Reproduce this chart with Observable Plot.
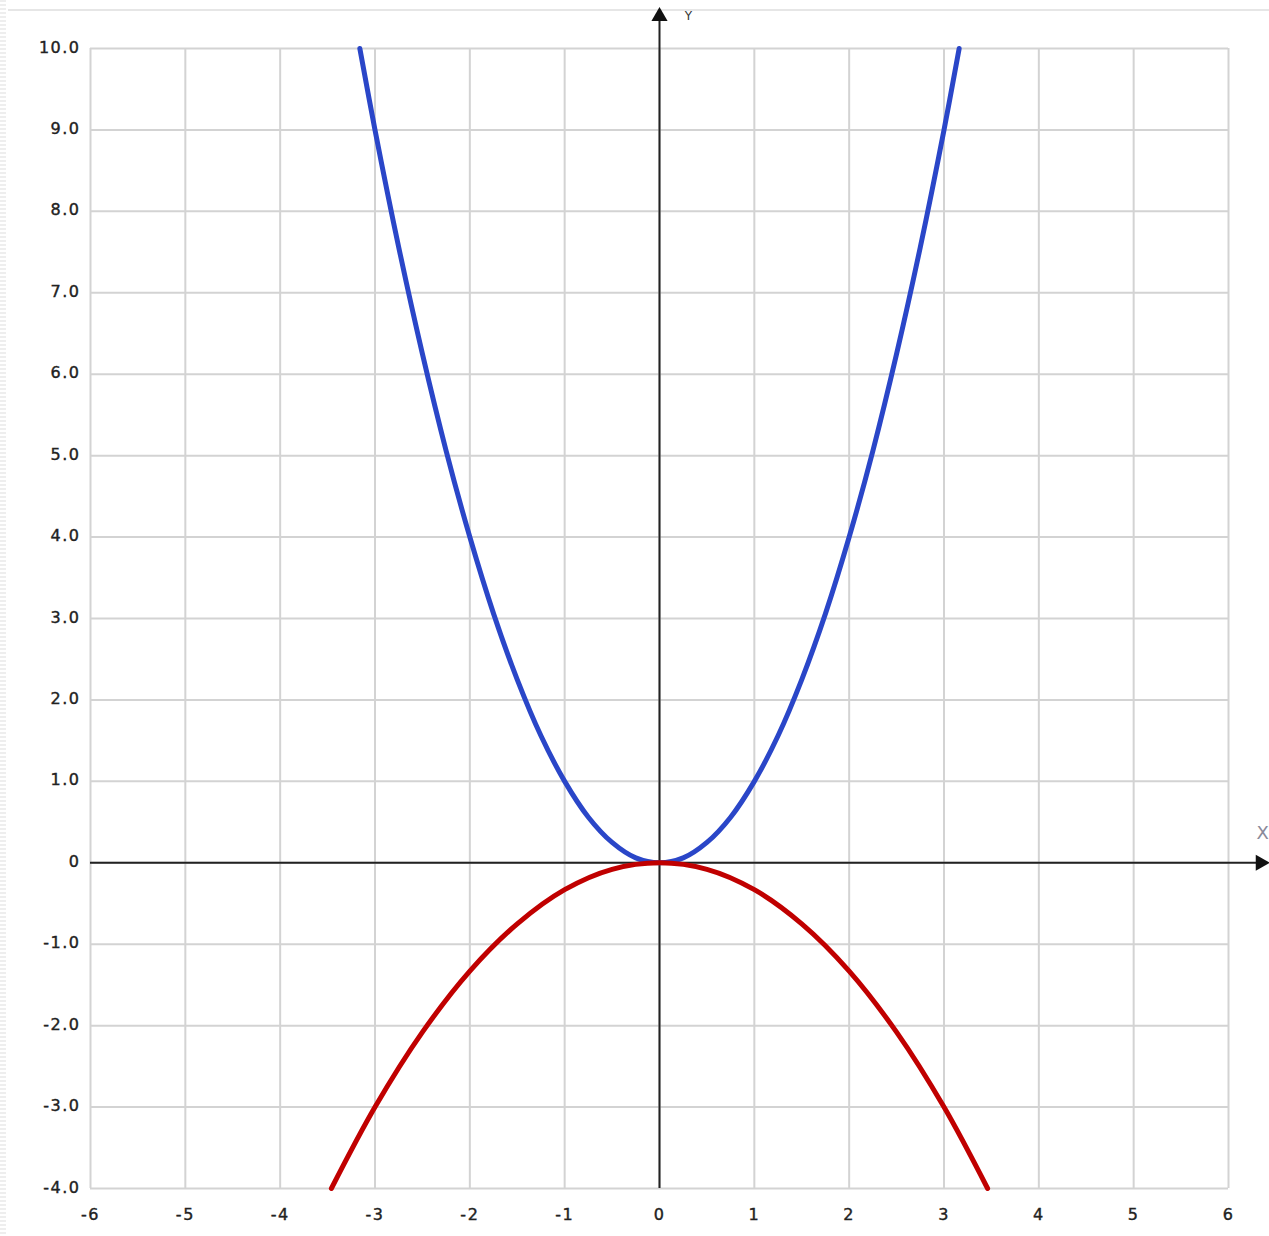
<!DOCTYPE html>
<html>
<head>
<meta charset="utf-8">
<script src="https://cdn.jsdelivr.net/npm/d3@7"></script>
<script src="https://cdn.jsdelivr.net/npm/@observablehq/plot@0.6"></script>
<style>
  html, body { margin: 0; padding: 0; background: #fff; }
  #wrap { position: relative; width: 1269px; height: 1236px; overflow: hidden; }
  #topline { position: absolute; left: 8px; right: 0; top: 9px; height: 2px; background: #e6e6e6; }
  #leftedge { position: absolute; left: 0; top: 0; bottom: 0; width: 6px;
    background: repeating-linear-gradient(180deg, #eee 0 2px, #fff 2px 4px); }
  svg { position: absolute; left: 0; top: 0; }
  svg g[aria-label="x-axis tick label"] text, svg g[aria-label="y-axis tick label"] text {
    letter-spacing: 1.5px; stroke: #222; stroke-width: 0.4px; }
</style>
</head>
<body>
<div id="wrap"><div id="topline"></div><div id="leftedge"></div></div>
<script>
// Tick values and labels
const xTicks = [-6, -5, -4, -3, -2, -1, 0, 1, 2, 3, 4, 5, 6];
const yTicks = [-4, -3, -2, -1, 0, 1, 2, 3, 4, 5, 6, 7, 8, 9, 10];
const yTickLabels = ["-4.0", "-3.0", "-2.0", "-1.0", "0", "1.0", "2.0", "3.0", "4.0", "5.0", "6.0", "7.0", "8.0", "9.0", "10.0"];

// Blue curve
const blueX = [-3.16, -3, -2.75, -2.5, -2.25, -2, -1.75, -1.5, -1.25, -1, -0.75, -0.5, -0.25, 0, 0.25, 0.5, 0.75, 1, 1.25, 1.5, 1.75, 2, 2.25, 2.5, 2.75, 3, 3.16];
const blueY = [10, 9, 7.56, 6.25, 5.06, 4, 3.06, 2.25, 1.56, 1, 0.56, 0.25, 0.06, 0, 0.06, 0.25, 0.56, 1, 1.56, 2.25, 3.06, 4, 5.06, 6.25, 7.56, 9, 10];

// Red curve
const redX = [-3.46, -3, -2.5, -2, -1.5, -1, -0.5, 0, 0.5, 1, 1.5, 2, 2.5, 3, 3.46];
const redY = [-4, -3, -2.08, -1.33, -0.75, -0.33, -0.08, 0, -0.08, -0.33, -0.75, -1.33, -2.08, -3, -4];

// Axis extents (arrow tips beyond the grid)
const xAxisExtent = [-6, 6.4];
const yAxisExtent = [-4, 10.47];
const axisNames = ["X", "Y"];

const blue = blueX.map((x, i) => ({x, y: blueY[i]}));
const red = redX.map((x, i) => ({x, y: redY[i]}));
const yLabelOf = new Map(yTicks.map((v, i) => [v, yTickLabels[i]]));

const gridColor = "#d3d3d3";
const axisColor = "#222";
const font = "'DejaVu Sans', Verdana, sans-serif";

const chart = Plot.plot({
  width: 1269,
  height: 1236,
  marginLeft: 90,
  marginRight: 41,
  marginTop: 48,
  marginBottom: 48,
  style: {fontFamily: font, fontSize: "16px", color: "#222", background: "transparent", overflow: "visible"},
  x: {domain: [-6, 6]},
  y: {domain: [-4, 10]},
  marks: [
    Plot.ruleX(xTicks, {stroke: gridColor, strokeWidth: 2, strokeOpacity: 1}),
    Plot.ruleY(yTicks, {stroke: gridColor, strokeWidth: 2, strokeOpacity: 1}),
    Plot.axisX(xTicks, {tickSize: 0, tickPadding: 20, fontSize: 16, fill: "#222", label: null, tickFormat: d => String(d)}),
    Plot.axisY(yTicks, {tickSize: 0, tickPadding: 10, dy: -1, fontSize: 16, fill: "#222", label: null, tickFormat: d => yLabelOf.get(d)}),
    // axes with arrows
    Plot.ruleX([0], {y1: yAxisExtent[0], y2: yAxisExtent[1], stroke: axisColor, strokeWidth: 2, clip: false}),
    Plot.ruleY([0], {x1: xAxisExtent[0], x2: xAxisExtent[1], stroke: axisColor, strokeWidth: 2, clip: false}),
    Plot.dot([{x: 0, y: yAxisExtent[1]}], {x: "x", y: "y", symbol: "triangle", r: 6, fill: "#111", stroke: "none", dy: 6, clip: false}),
    Plot.dot([{x: xAxisExtent[1], y: 0}], {x: "x", y: "y", symbol: "triangle", r: 6, fill: "#111", stroke: "none", rotate: 90, dx: -6, clip: false}),
    Plot.text([{x: xAxisExtent[1], y: 0, t: axisNames[0]}], {x: "x", y: "y", text: "t", dx: -10, dy: -30, fontSize: 18, fill: "#8a8a9a", textAnchor: "start", clip: false}),
    Plot.text([{x: 0, y: yAxisExtent[1], t: axisNames[1]}], {x: "x", y: "y", text: "t", dx: 29, dy: 6, fontSize: 12, fill: "#333", clip: false}),
    // curves
    Plot.line(blue, {x: "x", y: "y", stroke: "#2a46c8", strokeWidth: 5, curve: "catmull-rom"}),
    Plot.line(red, {x: "x", y: "y", stroke: "#c00000", strokeWidth: 5, curve: "catmull-rom"})
  ]
});
document.getElementById("wrap").appendChild(chart);
</script>
</body>
</html>
